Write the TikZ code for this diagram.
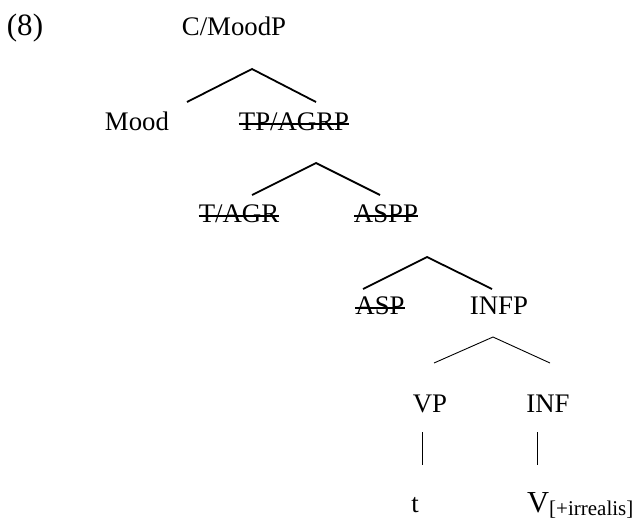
\documentclass[tikz,border=0pt]{standalone}
\usepackage{fontspec}
\setmainfont{Liberation Serif}
\begin{document}
\begin{tikzpicture}[x=1pt,y=-1pt,
  lbl/.style={anchor=base,inner sep=0pt,font=\fontsize{26.8}{30}\selectfont},
  heavybranch/.style={line width=1.8pt},
  lightbranch/.style={line width=0.9pt},
  strikeline/.style={line width=1.4pt}]
\useasboundingbox (0,0) rectangle (636,520);
% labels
\node[lbl,font=\fontsize{31}{34}\selectfont] (ex) at (25,35) {(8)};
\node[lbl] (cm) at (234,35) {C/MoodP};
\node[lbl] (mood) at (137,130) {Mood};
\node[lbl] (tp) at (294,130) {TP/AGRP};
\node[lbl] (tagr) at (239,222) {T/AGR};
\node[lbl] (aspp) at (386,222) {ASPP};
\node[lbl] (asp) at (380,314) {ASP};
\node[lbl] (infp) at (499,314) {INFP};
\node[lbl] (vp) at (430,412) {VP};
\node[lbl] (inf) at (548,412) {INF};
\node[lbl] (tr) at (415,512) {t};
\node[lbl,anchor=base west,font=\fontsize{30.5}{34}\selectfont] (v) at (527,512) {V\raisebox{-3pt}{\fontsize{21}{24}\selectfont[+irrealis]}};
% strike-throughs
\foreach \n in {tp,tagr,aspp,asp}
  \draw[strikeline] ([yshift=6pt]\n.base west) -- ([yshift=6pt]\n.base east);
% branch points
\coordinate (a1) at (252,69);  \coordinate (l1) at (187,102); \coordinate (r1) at (316,102);
\coordinate (a2) at (316,163); \coordinate (l2) at (252,195); \coordinate (r2) at (380,195);
\coordinate (a3) at (427,257); \coordinate (l3) at (363,289); \coordinate (r3) at (492,289);
\coordinate (a4) at (493,337); \coordinate (l4) at (434,363); \coordinate (r4) at (550,363);
\coordinate (vt1) at (422,432); \coordinate (vb1) at (422,465);
\coordinate (vt2) at (537,432); \coordinate (vb2) at (537,465);
\draw[heavybranch] (l1) -- (a1) -- (r1);
\draw[heavybranch] (l2) -- (a2) -- (r2);
\draw[heavybranch] (l3) -- (a3) -- (r3);
\draw[lightbranch] (l4) -- (a4) -- (r4);
\draw[lightbranch] (vt1) -- (vb1);
\draw[lightbranch] (vt2) -- (vb2);
\end{tikzpicture}
\end{document}
